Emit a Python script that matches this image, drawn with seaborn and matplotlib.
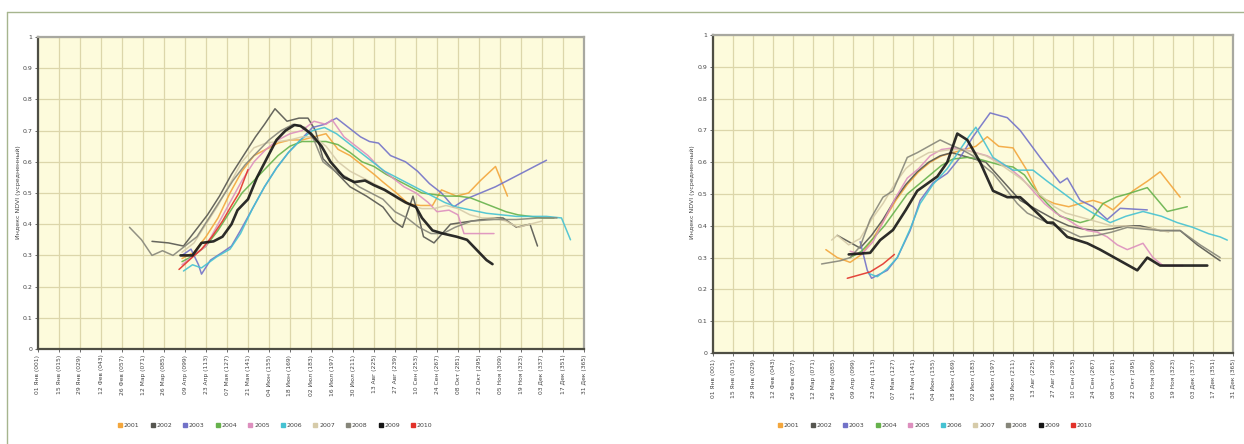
import numpy as np
import pandas as pd
import matplotlib
matplotlib.use("Agg")
import matplotlib.pyplot as plt
from matplotlib.lines import Line2D
import seaborn as sns

# ---------------- data ----------------
tick_days = [1, 15, 29, 43, 57, 71, 85, 99, 113, 127, 141, 155, 169, 183, 197,
             211, 225, 239, 253, 267, 281, 295, 309, 323, 337, 351, 365]
tick_labels = ["01 Янв (001)", "15 Янв (015)", "29 Янв (029)", "12 Фев (043)",
               "26 Фев (057)", "12 Мар (071)", "26 Мар (085)", "09 Апр (099)",
               "23 Апр (113)", "07 Мая (127)", "21 Мая (141)", "04 Июн (155)",
               "18 Июн (169)", "02 Июл (183)", "16 Июл (197)", "30 Июл (211)",
               "13 Авг (225)", "27 Авг (239)", "10 Сен (253)", "24 Сен (267)",
               "08 Окт (281)", "22 Окт (295)", "05 Ноя (309)", "19 Ноя (323)",
               "03 Дек (337)", "17 Дек (351)", "31 Дек (365)"]
y_ticks = [0, 0.1, 0.2, 0.3, 0.4, 0.5, 0.6, 0.7, 0.8, 0.9, 1.0]
y_tick_labels = ["0", "0.1", "0.2", "0.3", "0.4", "0.5", "0.6", "0.7", "0.8", "0.9", "1"]
y_title = "Индекс NDVI (усредненный)"
years = ["2001", "2002", "2003", "2004", "2005", "2006", "2007", "2008", "2009", "2010"]
year_colors = ["#f3a63c", "#565650", "#7272c8", "#66b24c", "#dd8fbe",
               "#45c2d2", "#d6cba9", "#86867a", "#151515", "#e2322a"]

# ----- left panel -----
L2001_d = [97, 105, 113, 121, 129, 137, 145, 153, 161, 169, 177, 185, 193, 201, 209, 217,
           225, 231, 240, 248, 256, 264, 270, 280, 288, 296, 306, 314]
L2001_v = [0.29, 0.31, 0.36, 0.42, 0.50, 0.57, 0.62, 0.64, 0.66, 0.67, 0.67, 0.68, 0.69,
           0.64, 0.62, 0.59, 0.56, 0.535, 0.50, 0.465, 0.46, 0.46, 0.51, 0.49, 0.50, 0.54,
           0.585, 0.49]
L2002_d = [77, 88, 98, 106, 114, 122, 130, 138, 146, 152, 159, 167, 175, 181, 186, 191,
           200, 209, 220, 231, 238, 244, 251, 255, 258, 265, 276, 290, 305, 311, 320, 329, 334]
L2002_v = [0.345, 0.34, 0.33, 0.38, 0.43, 0.49, 0.56, 0.62, 0.68, 0.72, 0.77, 0.73, 0.74,
           0.74, 0.70, 0.61, 0.565, 0.52, 0.49, 0.455, 0.41, 0.39, 0.49, 0.42, 0.36, 0.34,
           0.40, 0.41, 0.42, 0.42, 0.39, 0.40, 0.33]
L2003_d = [97, 103, 108, 110, 116, 124, 130, 136, 144, 152, 160, 168, 176, 184, 192, 200,
           208, 216, 222, 228, 236, 246, 254, 262, 270, 278, 286, 296, 306, 316, 326, 340]
L2003_v = [0.30, 0.32, 0.27, 0.24, 0.285, 0.31, 0.33, 0.38, 0.45, 0.52, 0.58, 0.63, 0.67,
           0.71, 0.72, 0.74, 0.71, 0.68, 0.665, 0.66, 0.62, 0.60, 0.57, 0.53, 0.50, 0.455,
           0.48, 0.50, 0.52, 0.545, 0.57, 0.605]
L2004_d = [97, 105, 113, 121, 129, 137, 145, 153, 161, 169, 177, 185, 193, 201, 209, 217,
           225, 233, 241, 249, 257, 265, 273, 281, 289, 297, 305, 313, 321, 329, 337, 345]
L2004_v = [0.28, 0.30, 0.33, 0.38, 0.44, 0.50, 0.54, 0.58, 0.62, 0.65, 0.665, 0.665, 0.665,
           0.655, 0.63, 0.60, 0.585, 0.56, 0.54, 0.52, 0.50, 0.495, 0.49, 0.49, 0.485, 0.47,
           0.455, 0.44, 0.43, 0.425, 0.42, 0.42]
L2005_d = [97, 105, 113, 121, 129, 137, 145, 153, 161, 169, 177, 185, 193, 197, 205, 213,
           221, 229, 237, 245, 253, 261, 267, 275, 281, 285, 295, 305]
L2005_v = [0.27, 0.30, 0.33, 0.40, 0.47, 0.54, 0.60, 0.64, 0.67, 0.69, 0.70, 0.73, 0.72,
           0.735, 0.68, 0.65, 0.62, 0.58, 0.55, 0.52, 0.50, 0.47, 0.44, 0.445, 0.43, 0.37,
           0.37, 0.37]
L2006_d = [98, 104, 110, 120, 129, 136, 144, 152, 160, 168, 176, 184, 192, 200, 208, 216,
           224, 232, 240, 248, 256, 264, 272, 280, 290, 300, 310, 320, 330, 340, 350, 356]
L2006_v = [0.25, 0.27, 0.26, 0.295, 0.32, 0.37, 0.45, 0.52, 0.58, 0.63, 0.67, 0.70, 0.71,
           0.69, 0.66, 0.63, 0.60, 0.57, 0.55, 0.53, 0.51, 0.49, 0.47, 0.455, 0.445, 0.435,
           0.43, 0.425, 0.425, 0.425, 0.42, 0.35]
L2007_d = [97, 105, 113, 121, 129, 137, 145, 153, 161, 169, 177, 185, 193, 201, 209, 217,
           225, 233, 241, 249, 257, 265, 273, 281, 289, 297, 305, 313, 321, 329, 337]
L2007_v = [0.31, 0.34, 0.40, 0.46, 0.53, 0.60, 0.645, 0.66, 0.665, 0.67, 0.68, 0.68, 0.65,
           0.60, 0.57, 0.55, 0.53, 0.51, 0.48, 0.46, 0.45, 0.45, 0.46, 0.45, 0.43, 0.42,
           0.42, 0.41, 0.39, 0.40, 0.41]
L2008_d = [62, 70, 77, 84, 91, 99, 107, 115, 123, 131, 139, 147, 155, 163, 171, 179, 185,
           191, 199, 207, 215, 223, 231, 239, 247, 255, 263, 271, 279, 290, 305, 320, 335, 347]
L2008_v = [0.39, 0.35, 0.30, 0.315, 0.30, 0.33, 0.36, 0.42, 0.48, 0.54, 0.59, 0.63, 0.67,
           0.70, 0.72, 0.71, 0.67, 0.60, 0.57, 0.55, 0.52, 0.50, 0.48, 0.44, 0.42, 0.39,
           0.37, 0.37, 0.39, 0.41, 0.415, 0.415, 0.42, 0.42]
L2009_d = [96, 104, 110, 118, 124, 130, 134, 141, 147, 154, 160, 166, 172, 176, 183, 190,
           196, 205, 212, 219, 225, 232, 239, 246, 253, 257, 264, 271, 280, 287, 293, 300, 304]
L2009_v = [0.30, 0.30, 0.34, 0.345, 0.36, 0.40, 0.445, 0.48, 0.55, 0.615, 0.67, 0.70, 0.718,
           0.715, 0.69, 0.65, 0.60, 0.55, 0.535, 0.54, 0.525, 0.51, 0.49, 0.47, 0.455, 0.42,
           0.38, 0.37, 0.36, 0.35, 0.32, 0.285, 0.272]
L2010_d = [95, 103, 110, 117, 124, 130, 135, 141]
L2010_v = [0.255, 0.29, 0.32, 0.36, 0.41, 0.46, 0.50, 0.575]

# ----- right panel -----
R2001_d = [80, 88, 97, 105, 113, 121, 129, 137, 145, 153, 161, 169, 177, 185, 193, 201,
           211, 220, 230, 240, 250, 258, 267, 274, 281, 288, 295, 305, 314, 328]
R2001_v = [0.325, 0.30, 0.285, 0.31, 0.36, 0.42, 0.48, 0.53, 0.57, 0.60, 0.62, 0.63, 0.64,
           0.65, 0.68, 0.65, 0.645, 0.58, 0.49, 0.47, 0.46, 0.47, 0.48, 0.47, 0.45, 0.48,
           0.51, 0.54, 0.57, 0.49]
R2002_d = [88, 96, 104, 112, 120, 128, 136, 144, 152, 160, 168, 176, 184, 192, 200, 208,
           216, 224, 232, 240, 250, 260, 270, 280, 290, 300, 314, 328, 340, 356]
R2002_v = [0.37, 0.35, 0.33, 0.37, 0.42, 0.48, 0.53, 0.57, 0.60, 0.62, 0.63, 0.62, 0.61,
           0.60, 0.56, 0.52, 0.48, 0.46, 0.44, 0.42, 0.40, 0.39, 0.385, 0.39, 0.40, 0.40,
           0.385, 0.385, 0.34, 0.29]
R2003_d = [104, 109, 112, 123, 130, 139, 146, 155, 165, 174, 183, 195, 207, 216, 230, 244,
           249, 258, 267, 277, 286, 305]
R2003_v = [0.35, 0.26, 0.235, 0.26, 0.30, 0.385, 0.48, 0.535, 0.565, 0.615, 0.68, 0.755,
           0.74, 0.70, 0.615, 0.535, 0.55, 0.48, 0.46, 0.42, 0.455, 0.45]
R2004_d = [97, 105, 113, 121, 129, 137, 145, 153, 161, 169, 179, 187, 195, 203, 211, 219,
           227, 235, 244, 258, 266, 274, 283, 291, 305, 319, 333]
R2004_v = [0.30, 0.32, 0.36, 0.40, 0.45, 0.50, 0.53, 0.56, 0.59, 0.61, 0.615, 0.61, 0.60,
           0.59, 0.585, 0.56, 0.51, 0.47, 0.43, 0.41, 0.42, 0.47, 0.49, 0.50, 0.52, 0.445, 0.46]
R2005_d = [97, 105, 113, 121, 129, 137, 145, 153, 161, 169, 177, 185, 193, 201, 209, 217,
           225, 233, 241, 249, 256, 263, 270, 277, 284, 291, 302, 309, 316, 330]
R2005_v = [0.32, 0.31, 0.35, 0.42, 0.49, 0.55, 0.58, 0.62, 0.64, 0.645, 0.64, 0.63, 0.62,
           0.60, 0.58, 0.55, 0.51, 0.47, 0.44, 0.42, 0.40, 0.385, 0.38, 0.365, 0.34, 0.325,
           0.345, 0.30, 0.275, 0.275]
R2006_d = [110, 116, 123, 130, 139, 146, 155, 165, 174, 180, 185, 197, 211, 225, 235, 244,
           256, 267, 279, 290, 302, 315, 326, 337, 348, 356, 361]
R2006_v = [0.25, 0.24, 0.265, 0.30, 0.39, 0.47, 0.53, 0.58, 0.64, 0.68, 0.71, 0.615, 0.575,
           0.575, 0.54, 0.51, 0.47, 0.44, 0.41, 0.43, 0.445, 0.43, 0.41, 0.395, 0.375, 0.365,
           0.355]
R2007_d = [84, 88, 96, 104, 112, 120, 128, 136, 144, 152, 160, 168, 176, 184, 192, 200,
           208, 216, 224, 232, 240, 248, 256, 264, 272, 280, 290, 300, 310, 320]
R2007_v = [0.355, 0.37, 0.34, 0.36, 0.42, 0.47, 0.53, 0.58, 0.61, 0.63, 0.635, 0.64, 0.64,
           0.63, 0.62, 0.60, 0.575, 0.55, 0.52, 0.49, 0.46, 0.44, 0.43, 0.42, 0.41, 0.40,
           0.40, 0.395, 0.39, 0.38]
R2008_d = [77, 90, 97, 104, 111, 120, 127, 137, 144, 152, 160, 167, 175, 183, 190, 197,
           207, 214, 221, 235, 246, 258, 270, 280, 291, 302, 314, 328, 342, 356]
R2008_v = [0.28, 0.29, 0.30, 0.335, 0.42, 0.49, 0.51, 0.615, 0.63, 0.65, 0.67, 0.655, 0.64,
           0.62, 0.59, 0.565, 0.51, 0.47, 0.44, 0.41, 0.39, 0.365, 0.37, 0.38, 0.395, 0.39,
           0.385, 0.385, 0.34, 0.30]
R2009_d = [96, 111, 118, 127, 136, 144, 158, 165, 172, 179, 188, 197, 207, 216, 221, 235,
           239, 249, 263, 272, 286, 298, 305, 314, 330, 347]
R2009_v = [0.31, 0.315, 0.355, 0.387, 0.45, 0.51, 0.555, 0.60, 0.69, 0.67, 0.60, 0.51,
           0.49, 0.49, 0.47, 0.41, 0.41, 0.365, 0.345, 0.325, 0.29, 0.26, 0.30, 0.275,
           0.275, 0.275]
R2010_d = [95, 103, 111, 120, 128]
R2010_v = [0.235, 0.245, 0.255, 0.28, 0.31]

left_series = {"2001": (L2001_d, L2001_v), "2002": (L2002_d, L2002_v),
               "2003": (L2003_d, L2003_v), "2004": (L2004_d, L2004_v),
               "2005": (L2005_d, L2005_v), "2006": (L2006_d, L2006_v),
               "2007": (L2007_d, L2007_v), "2008": (L2008_d, L2008_v),
               "2009": (L2009_d, L2009_v), "2010": (L2010_d, L2010_v)}
right_series = {"2001": (R2001_d, R2001_v), "2002": (R2002_d, R2002_v),
                "2003": (R2003_d, R2003_v), "2004": (R2004_d, R2004_v),
                "2005": (R2005_d, R2005_v), "2006": (R2006_d, R2006_v),
                "2007": (R2007_d, R2007_v), "2008": (R2008_d, R2008_v),
                "2009": (R2009_d, R2009_v), "2010": (R2010_d, R2010_v)}


def to_frame(series):
    rows = []
    for yr, (d, v) in series.items():
        for di, vi in zip(d, v):
            rows.append({"day": di, "ndvi": vi, "year": yr})
    return pd.DataFrame(rows)


# ---------------- style ----------------
sns.set_theme(style="white")
plt.rcParams["font.family"] = ["DejaVu Sans"]

W, H = 1244, 444
fig = plt.figure(figsize=(W / 100, H / 100), dpi=100)
fig.patch.set_facecolor("white")

palette = dict(zip(years, year_colors))
bg = "#fdfbdc"
grid_c = "#dcd6aa"


def px_axes(x0, y0, x1, y1):
    return fig.add_axes([x0 / W, 1 - y1 / H, (x1 - x0) / W, (y1 - y0) / H])


panels = [
    (px_axes(38, 37, 584, 349), left_series, 18, 275),
    (px_axes(713, 35, 1233, 353), right_series, 692, 935),
]

for ax, series, ylab_x, leg_cx in panels:
    df = to_frame(series)
    ax.set_facecolor(bg)
    for yr in years:
        sub = df[df["year"] == yr]
        lw = 1.9 if yr == "2009" else 1.1
        sns.lineplot(data=sub, x="day", y="ndvi", color=palette[yr], lw=lw,
                     sort=False, estimator=None, ax=ax, alpha=0.9,
                     zorder=4 if yr == "2009" else 3, legend=False)
    ax.set_xlim(1, 365)
    ax.set_ylim(0, 1)
    ax.set_xticks(tick_days)
    ax.set_xticklabels(tick_labels, rotation=90, fontsize=4.3, color="#444444")
    ax.set_yticks(y_ticks)
    ax.set_yticklabels(y_tick_labels, fontsize=4.5, color="#444444")
    ax.grid(True, color=grid_c, lw=0.9, zorder=0)
    ax.set_axisbelow(True)
    ax.set_xlabel("")
    ax.set_ylabel("")
    ax.tick_params(axis="both", which="major", length=2.5, width=0.6,
                   color="#555555", pad=1.5, bottom=True, left=True)
    for side in ("left", "bottom"):
        ax.spines[side].set_color("#4e4e44")
        ax.spines[side].set_linewidth(1.6)
    for side in ("top", "right"):
        ax.spines[side].set_color("#a8a8a0")
        ax.spines[side].set_linewidth(1.6)
    fig.text(ylab_x / W, 1 - 192 / H, y_title, rotation=90, fontsize=4.5,
             color="#444444", ha="center", va="center")
    handles = [Line2D([], [], marker="s", ls="", color=c, markersize=3.2)
               for c in year_colors]
    fig.legend(handles, years, loc="center", ncol=10, frameon=False,
               bbox_to_anchor=(leg_cx / W, 1 - 425 / H), fontsize=4.5,
               handletextpad=0.2, columnspacing=1.7, handlelength=0.8,
               labelcolor="#444444")

# outer frame lines of the screenshot
frame_c = "#a6b58e"
fig.add_artist(Line2D([7 / W, 1], [1 - 12 / H, 1 - 12 / H], transform=fig.transFigure,
                      color=frame_c, lw=1.0))
fig.add_artist(Line2D([7 / W, 7 / W], [0, 1 - 12 / H], transform=fig.transFigure,
                      color=frame_c, lw=1.0))

fig.savefig("out.png", dpi=100, facecolor="white")
